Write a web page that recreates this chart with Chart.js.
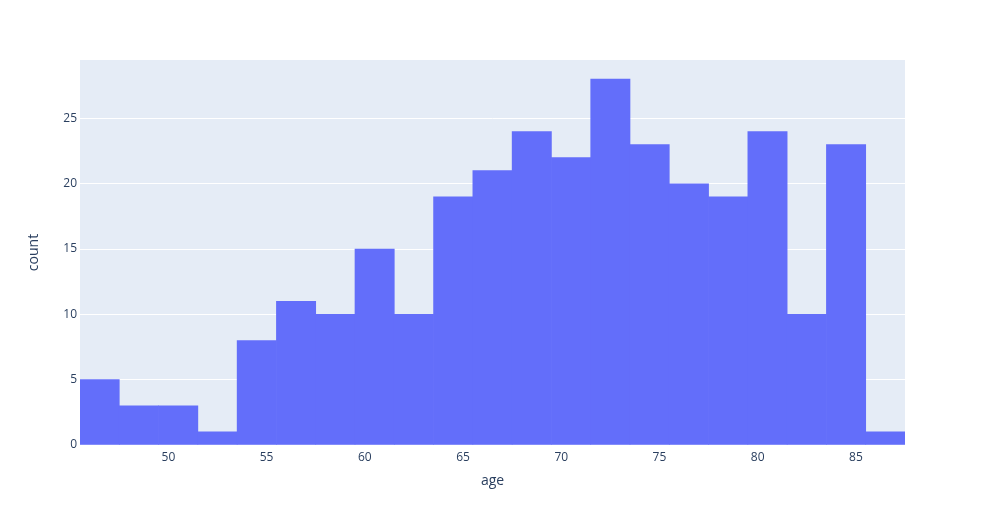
<!DOCTYPE html>
<html>
<head>
<meta charset="utf-8">
<script src="https://cdn.jsdelivr.net/npm/chart.js@4"></script>
<style>
html,body{margin:0;padding:0;background:#fff;}
#wrap{width:985px;height:525px;}
</style>
</head>
<body>
<div id="wrap"><canvas id="c" width="985" height="525"></canvas></div>
<script>
// bin centers (age), bin width 2
const binCenters = [46.5, 48.5, 50.5, 52.5, 54.5, 56.5, 58.5, 60.5, 62.5, 64.5, 66.5, 68.5, 70.5, 72.5, 74.5, 76.5, 78.5, 80.5, 82.5, 84.5, 86.5];
const counts = [5, 3, 3, 1, 8, 11, 10, 15, 10, 19, 21, 24, 22, 28, 23, 20, 19, 24, 10, 23, 1];
const xTickValues = [50, 55, 60, 65, 70, 75, 80, 85];
const yTickValues = [0, 5, 10, 15, 20, 25];
const xTitle = 'age';
const yTitle = 'count';

const bgPlugin = {
  id: 'plotbg',
  beforeDraw(chart) {
    const {ctx, chartArea: a} = chart;
    ctx.save();
    ctx.fillStyle = '#E5ECF6';
    ctx.fillRect(a.left, a.top, a.right - a.left, a.bottom - a.top);
    ctx.restore();
  }
};

const font = {family: '"Open Sans", verdana, arial, sans-serif', size: 12};
new Chart(document.getElementById('c'), {
  type: 'bar',
  data: {
    datasets: [{
      data: binCenters.map((x, i) => ({x: x, y: counts[i]})),
      backgroundColor: '#636EFA',
      borderWidth: 0,
      barPercentage: 1.0,
      categoryPercentage: 1.0
    }]
  },
  options: {
    responsive: false,
    animation: false,
    layout: {padding: {top: 60, right: 80, left: 0, bottom: 0}},
    plugins: {legend: {display: false}, tooltip: {enabled: false}},
    scales: {
      x: {
        type: 'linear',
        min: 45.5,
        max: 87.5,
        offset: false,
        grid: {display: false, drawTicks: false},
        border: {display: false},
        ticks: {color: '#2a3f5f', font: font, padding: 5, maxRotation: 0},
        afterBuildTicks: s => { s.ticks = xTickValues.map(v => ({value: v})); },
        afterFit: s => { s.height = 80; },
        title: {display: true, text: xTitle, color: '#2a3f5f', font: {family: font.family, size: 14}, padding: {top: 0, bottom: 36}}
      },
      y: {
        min: 0,
        max: 29.47,
        grid: {color: '#ffffff', lineWidth: 1, drawTicks: false},
        border: {display: false},
        ticks: {color: '#2a3f5f', font: font, padding: 3},
        afterBuildTicks: s => { s.ticks = yTickValues.map(v => ({value: v})); },
        afterFit: s => { s.width = 80; },
        title: {display: true, text: yTitle, color: '#2a3f5f', font: {family: font.family, size: 14}, padding: {top: 26, bottom: 0}}
      }
    }
  },
  plugins: [bgPlugin]
});
</script>
</body>
</html>
